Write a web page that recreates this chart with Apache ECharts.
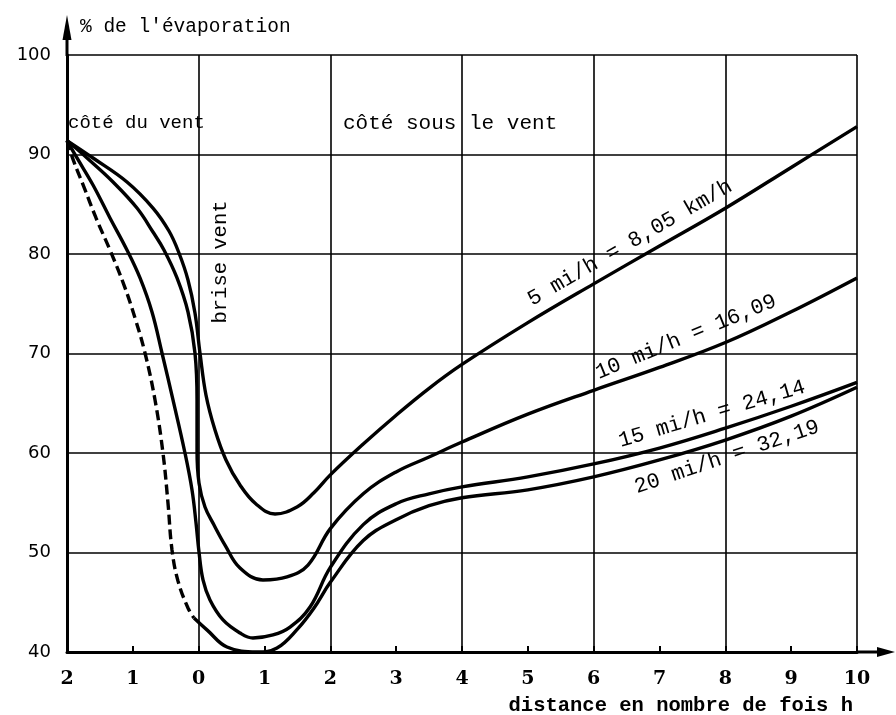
<!DOCTYPE html>
<html>
<head>
<meta charset="utf-8">
<script src="https://cdn.jsdelivr.net/npm/echarts@6/dist/echarts.min.js"></script>
<style>
html,body{margin:0;padding:0;background:#fff;}
#c{width:896px;height:715px;}
</style>
</head>
<body>
<div id="c"></div>
<script>
// ---- data (x = distance in multiples of h, negative = windward side; y = % of evaporation)
var xTicks = [-2,-1,0,1,2,3,4,5,6,7,8,9,10];
var yTicks = [40,50,60,70,80,90,100];

var mph5 = [[-2,91.4],[-1.605,89.65],[-1.089,87.24],[-0.694,84.62],[-0.451,82.31],[-0.299,80.10],[-0.162,77.39],[-0.056,74.07],[0.02,70.05],[0.111,65.83],[0.248,62.31],[0.415,59.30],[0.628,56.78],[0.871,54.87],[1.16,53.87],[1.5,54.6],[1.75,56.0],[2,57.8],[2.5,60.9],[3,63.8],[3.5,66.5],[4,68.9],[5,73.1],[6,77.0],[7,80.8],[8,84.6],[9,88.7],[10,92.8]];
var mph10 = [[-2,91.4],[-1.696,89.65],[-1.301,87.24],[-0.937,84.62],[-0.694,82.21],[-0.527,80.40],[-0.329,77.59],[-0.162,74.17],[-0.056,70.05],[-0.025,65.33],[-0.025,60.3],[0.005,56.98],[0.096,54.57],[0.233,52.76],[0.4,50.75],[0.628,48.44],[0.977,47.24],[1.342,47.54],[1.661,48.74],[2,52.4],[2.5,55.9],[3,58.1],[3.5,59.6],[4,61.1],[5,63.9],[6,66.3],[7,68.6],[8,71.1],[9,74.2],[10,77.6]];
var mph15 = [[-2,91.4],[-1.848,89.65],[-1.605,86.93],[-1.347,83.62],[-1.089,80.40],[-0.891,77.59],[-0.709,74.17],[-0.557,70.05],[-0.39,65.33],[-0.208,60.0],[-0.101,56.28],[-0.04,52.96],[0.005,50.05],[0.066,47.24],[0.172,45.23],[0.37,43.22],[0.628,41.91],[0.825,41.41],[1.129,41.71],[1.388,42.51],[1.692,44.52],[2,48.5],[2.5,52.8],[3,54.9],[3.5,55.9],[4,56.6],[5,57.6],[6,58.9],[7,60.5],[8,62.5],[9,64.7],[10,67.1]];
var mph20Windward = [[-2,91.4],[-1.894,89.25],[-1.742,86.73],[-1.559,83.62],[-1.347,80.40],[-1.134,76.88],[-0.967,73.57],[-0.815,70.05],[-0.663,65.33],[-0.542,60.0],[-0.466,54.97],[-0.405,50.25],[-0.314,47.14],[-0.162,44.42],[-0.071,43.42]];
var mph20 = [[-0.071,43.42],[0.13,42.2],[0.43,40.5],[0.886,40.0],[1.19,40.4],[1.5,42.3],[1.75,44.4],[2,47.0],[2.5,51.2],[3,53.3],[3.5,54.7],[4,55.5],[5,56.3],[6,57.6],[7,59.3],[8,61.3],[9,63.7],[10,66.6]];

var curveLabels = ["5 mi/h = 8,05 km/h","10 mi/h = 16,09","15 mi/h = 24,14","20 mi/h = 32,19"];
var yAxisTitle = "% de l'évaporation";
var xAxisTitle = "distance en nombre de fois h";
var windwardText = "côté du vent";
var leewardText = "côté sous le vent";
var breakText = "brise vent";

var chart = echarts.init(document.getElementById('c'), null, {renderer:'canvas'});
var SERIF = "'DejaVu Serif', serif";
var MONO = "'Liberation Mono', monospace";

function curve(data, dashed){
  return {type:'line', data:data, symbol:'none', smooth:0.4, clip:false,
    lineStyle:{color:'#000', width:3.4, type: dashed ? [10,5] : 'solid', cap:'butt'}, z:5, silent:true};
}

function txt(str, x, y, rotDeg, align, size, weight){
  return {type:'text', x:x, y:y, rotation:(rotDeg||0)*Math.PI/180, z:10,
    style:{text:str, fill:'#000', font:(weight||'normal')+' '+size+'px '+MONO, textAlign:align||'center', textVerticalAlign:'middle'}};
}

chart.setOption({
  animation:false,
  backgroundColor:'#fff',
  grid:{left:67, right:39, top:55, bottom:63},
  xAxis:[
    {type:'value', min:xTicks[0], max:xTicks[xTicks.length-1], interval:1,
     axisLine:{show:true, onZero:false, lineStyle:{color:'#000', width:3}},
     axisTick:{show:true, inside:true, length:6, lineStyle:{color:'#000', width:2}},
     axisLabel:{formatter:function(v){return String(Math.abs(v));}, color:'#000', fontSize:19, fontWeight:'bold', fontFamily:SERIF, margin:18},
     splitLine:{show:false}},
    {type:'value', min:xTicks[0], max:xTicks[xTicks.length-1], interval:2, position:'bottom',
     axisLine:{show:false, onZero:false}, axisTick:{show:false}, axisLabel:{show:false},
     splitLine:{show:true, lineStyle:{color:'#000', width:1.6}}}
  ],
  yAxis:{type:'value', min:yTicks[0], max:yTicks[yTicks.length-1], interval:10,
     axisLine:{show:true, onZero:false, lineStyle:{color:'#000', width:3}},
     axisTick:{show:false},
     axisLabel:{color:'#000', fontSize:18, fontFamily:"'DejaVu Sans', sans-serif", margin:16},
     splitLine:{show:true, lineStyle:{color:'#000', width:1.6}}},
  series:[curve(mph5), curve(mph10), curve(mph15), curve(mph20Windward, true), curve(mph20)],
  graphic:[
    {type:'line', shape:{x1:67, y1:56, x2:67, y2:30}, style:{stroke:'#000', lineWidth:3}},
    {type:'polygon', shape:{points:[[67,15],[62.5,40],[71.5,40]]}, style:{fill:'#000'}},
    {type:'line', shape:{x1:856, y1:652, x2:882, y2:652}, style:{stroke:'#000', lineWidth:3}},
    {type:'polygon', shape:{points:[[895,652],[877,647],[877,657]]}, style:{fill:'#000'}},
    txt(yAxisTitle, 80, 27, 0, 'left', 19.5),
    txt(xAxisTitle, 853, 706, 0, 'right', 20.5, 'bold'),
    txt(windwardText, 68, 123, 0, 'left', 19),
    txt(leewardText, 343, 123, 0, 'left', 21),
    txt(breakText, 221, 262, 90, 'center', 20.5),
    txt(curveLabels[0], 630, 243, 30, 'center', 21.5),
    txt(curveLabels[1], 686, 337, 22.3, 'center', 21.5),
    txt(curveLabels[2], 712, 414, 16.5, 'center', 21.5),
    txt(curveLabels[3], 727, 457, 18.6, 'center', 21.5)
  ]
});
</script>
</body>
</html>
